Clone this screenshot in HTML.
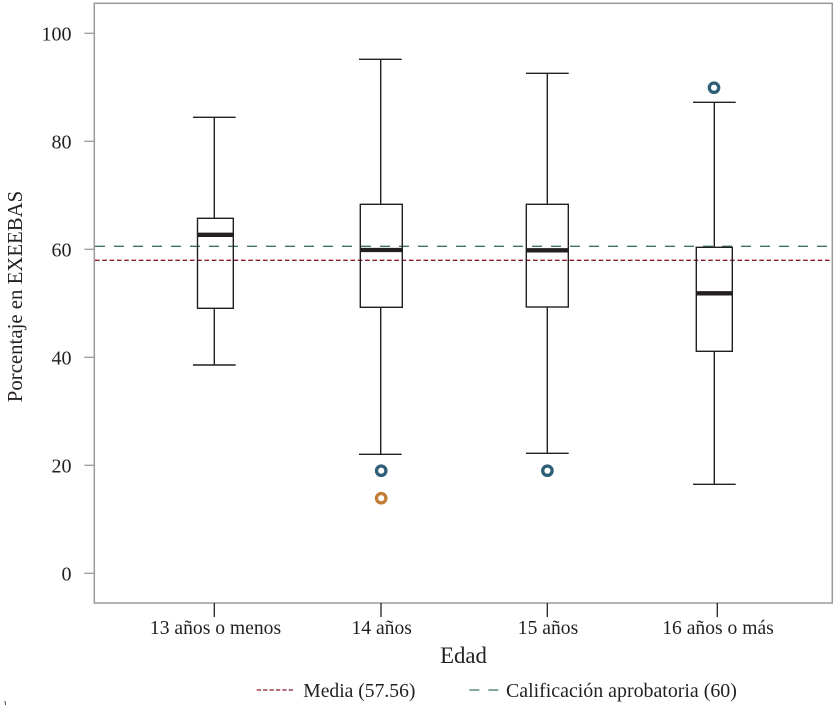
<!DOCTYPE html>
<html>
<head>
<meta charset="utf-8">
<style>
  html, body { margin: 0; padding: 0; background: #ffffff; }
  svg { display: block; }
  text { font-family: "Liberation Serif", "DejaVu Serif", serif; fill: #231f20; }
</style>
</head>
<body>
<svg width="840" height="707" viewBox="0 0 840 707" xmlns="http://www.w3.org/2000/svg">
  <rect x="0" y="0" width="840" height="707" fill="#ffffff"/>

  <!-- plot frame -->
  <rect x="94.3" y="3.3" width="738" height="599.7" fill="none" stroke="#9a9a9a" stroke-width="1.5"/>

  <!-- y ticks -->
  <g stroke="#9a9a9a" stroke-width="1.3">
    <line x1="84.3" y1="33.3" x2="94.3" y2="33.3"/>
    <line x1="84.3" y1="141.3" x2="94.3" y2="141.3"/>
    <line x1="84.3" y1="249.3" x2="94.3" y2="249.3"/>
    <line x1="84.3" y1="357.3" x2="94.3" y2="357.3"/>
    <line x1="84.3" y1="465.3" x2="94.3" y2="465.3"/>
    <line x1="84.3" y1="573.3" x2="94.3" y2="573.3"/>
  </g>
  <g font-size="20" text-anchor="end">
    <text x="71.5" y="40.3">100</text>
    <text x="71.5" y="148.3">80</text>
    <text x="71.5" y="256.3">60</text>
    <text x="71.5" y="364.3">40</text>
    <text x="71.5" y="472.3">20</text>
    <text x="71.5" y="580.3">0</text>
  </g>

  <!-- x ticks -->
  <g stroke="#231f20" stroke-width="1.3">
    <line x1="214.3" y1="603" x2="214.3" y2="617"/>
    <line x1="381" y1="603" x2="381" y2="617"/>
    <line x1="547.3" y1="603" x2="547.3" y2="617"/>
    <line x1="717.3" y1="603" x2="717.3" y2="617"/>
  </g>
  <g font-size="19.6" text-anchor="middle">
    <text x="215.5" y="634">13 años o menos</text>
    <text x="381.7" y="634">14 años</text>
    <text x="548" y="634">15 años</text>
    <text x="718" y="634">16 años o más</text>
  </g>

  <!-- axis titles -->
  <text x="463.5" y="663" font-size="22.8" text-anchor="middle">Edad</text>
  <text transform="translate(22,296.5) rotate(-90)" font-size="20.8" text-anchor="middle">Porcentaje en EXEEBAS</text>

  <!-- reference lines -->
  <line x1="95" y1="246.3" x2="832" y2="246.3" stroke="#3d7663" stroke-width="1.3" stroke-dasharray="10,9"/>
  <line x1="95" y1="260.3" x2="831" y2="260.3" stroke="#8b1a2c" stroke-width="1.3" stroke-dasharray="4.6,2.7"/>

  <!-- boxes -->
  <g stroke="#231f20" stroke-width="1.4" fill="none">
    <!-- box 1 -->
    <line x1="214.3" y1="117.3" x2="214.3" y2="218.3"/>
    <line x1="214.3" y1="308.3" x2="214.3" y2="365"/>
    <line x1="193" y1="117.3" x2="235.7" y2="117.3"/>
    <line x1="193" y1="365" x2="235.7" y2="365"/>
    <rect x="197.5" y="218.3" width="35.8" height="90"/>
    <!-- box 2 -->
    <line x1="380.7" y1="59.3" x2="380.7" y2="204.3"/>
    <line x1="380.7" y1="307.3" x2="380.7" y2="454.3"/>
    <line x1="359" y1="59.3" x2="401.7" y2="59.3"/>
    <line x1="359" y1="454.3" x2="401.7" y2="454.3"/>
    <rect x="360.3" y="204.3" width="42" height="103"/>
    <!-- box 3 -->
    <line x1="547.3" y1="73.3" x2="547.3" y2="204.3"/>
    <line x1="547.3" y1="307" x2="547.3" y2="453.3"/>
    <line x1="526" y1="73.3" x2="568.7" y2="73.3"/>
    <line x1="526" y1="453.3" x2="568.7" y2="453.3"/>
    <rect x="526.3" y="204.3" width="42" height="102.7"/>
    <!-- box 4 -->
    <line x1="714.3" y1="102.3" x2="714.3" y2="247.3"/>
    <line x1="714.3" y1="351.3" x2="714.3" y2="484.3"/>
    <line x1="693" y1="102.3" x2="735.7" y2="102.3"/>
    <line x1="693" y1="484.3" x2="735.7" y2="484.3"/>
    <rect x="696.3" y="247.3" width="36" height="104"/>
  </g>
  <!-- medians -->
  <g stroke="#231f20" stroke-width="4.3">
    <line x1="197.5" y1="234.8" x2="233.3" y2="234.8"/>
    <line x1="360.3" y1="250" x2="402.3" y2="250"/>
    <line x1="526.3" y1="250.3" x2="568.3" y2="250.3"/>
    <line x1="696.3" y1="293.3" x2="732.3" y2="293.3"/>
  </g>

  <!-- outliers -->
  <g fill="none" stroke-width="3.3">
    <circle cx="381.2" cy="470.7" r="4.7" stroke="#2f5f78"/>
    <circle cx="381.2" cy="498.2" r="4.7" stroke="#c27d34"/>
    <circle cx="547.4" cy="470.7" r="4.7" stroke="#2f5f78"/>
    <circle cx="714" cy="87.7" r="4.7" stroke="#2f5f78"/>
  </g>

  <!-- legend -->
  <line x1="256.7" y1="690" x2="293.3" y2="690" stroke="#8b1a2c" stroke-width="1.3" stroke-dasharray="4.3,2.1"/>
  <text x="303.3" y="697" font-size="19.6">Media (57.56)</text>
  <line x1="469.3" y1="690" x2="498.3" y2="690" stroke="#3d7663" stroke-width="1.3" stroke-dasharray="10,9"/>
  <text x="506" y="697" font-size="19.9">Calificación aprobatoria (60)</text>

  <!-- tiny mark bottom-left -->
  <line x1="5" y1="701" x2="5.5" y2="705" stroke="#231f20" stroke-width="0.8"/>
</svg>
</body>
</html>
